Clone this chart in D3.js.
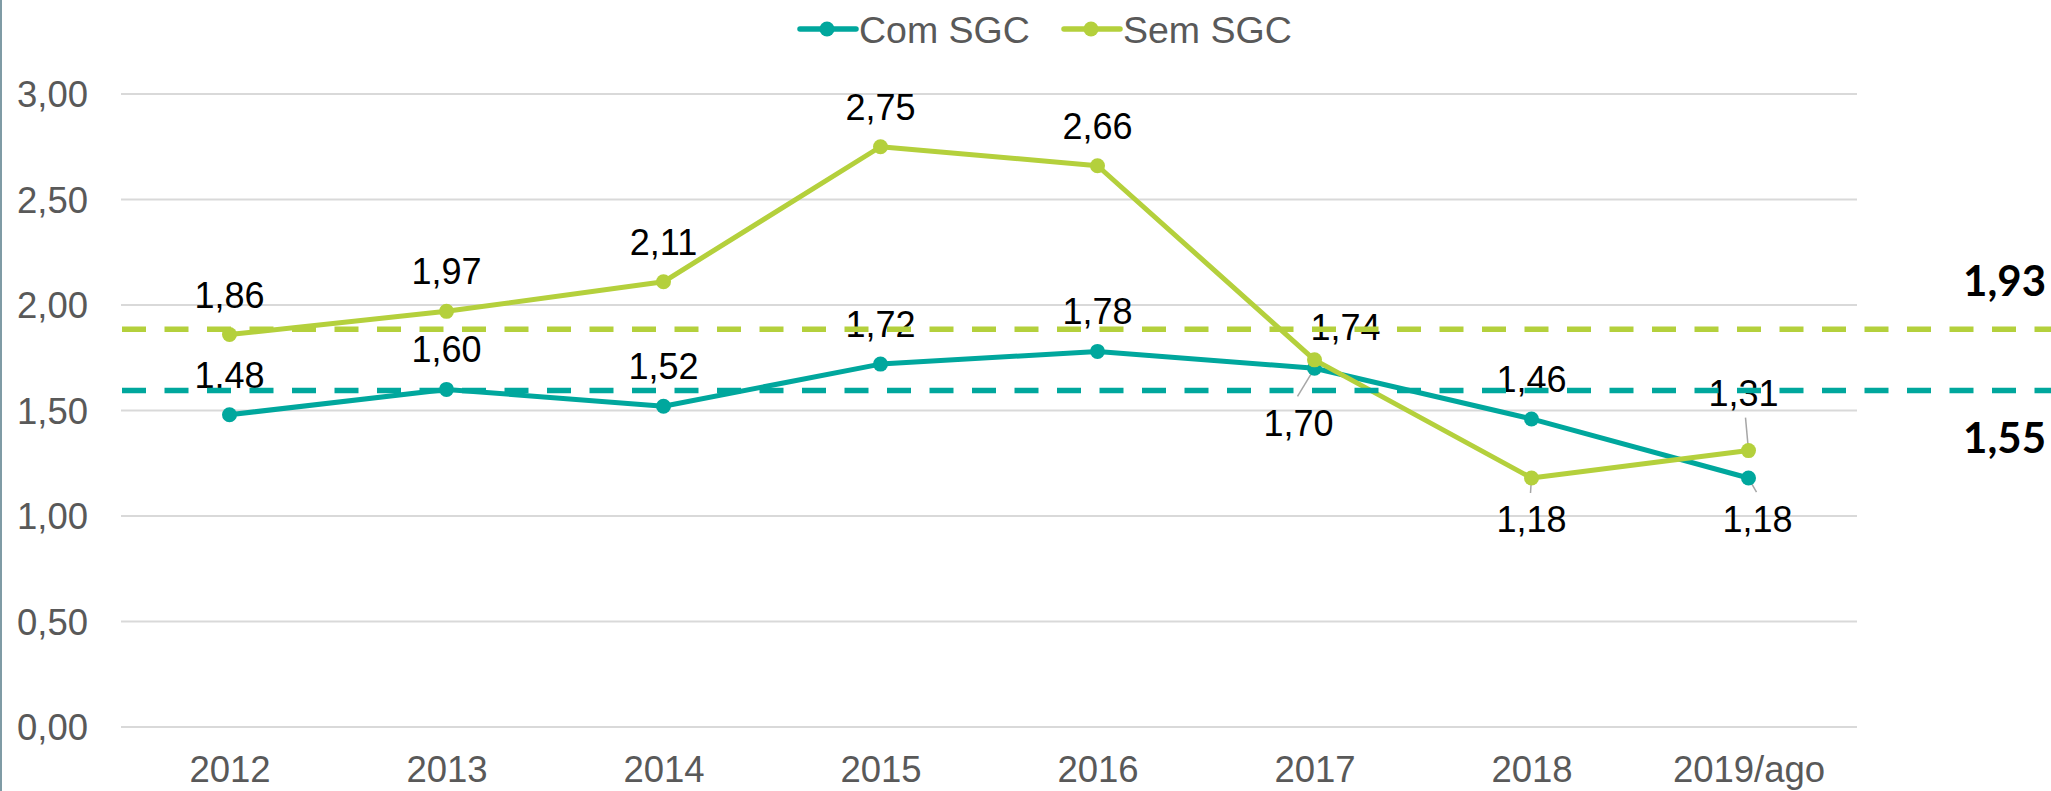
<!DOCTYPE html>
<html>
<head>
<meta charset="utf-8">
<script src="https://cdn.jsdelivr.net/npm/d3@7"></script>
<style>
  html, body { margin: 0; padding: 0; background: #fff; }
  svg { display: block; font-family: "Liberation Sans", Arial, sans-serif; }
</style>
</head>
<body>
<div id="chart"></div>
<script>
const years = ["2012", "2013", "2014", "2015", "2016", "2017", "2018", "2019/ago"];
const comSGC = [1.48, 1.60, 1.52, 1.72, 1.78, 1.70, 1.46, 1.18];
const semSGC = [1.86, 1.97, 2.11, 2.75, 2.66, 1.74, 1.18, 1.31];
const yTicks = [0, 0.5, 1, 1.5, 2, 2.5, 3];
// reference lines as drawn, and the averages printed beside them
const avgLines = [1.885, 1.595];
const avgLabels = ["1,93", "1,55"];

const width = 2051;
const height = 791;
const teal = "#00a79d";
const green = "#b4d03c";

const fmt = v => d3.format(".2f")(v).replace(".", ",");

const svg = d3.select("#chart").append("svg")
    .attr("width", width)
    .attr("height", height);

const x = d3.scalePoint()
    .domain(years)
    .range([121, 1857])
    .padding(0.5);

const y = d3.scaleLinear()
    .domain([0, 3])
    .range([727, 94]);

// left border line
svg.append("line")
    .attr("x1", 1).attr("x2", 1)
    .attr("y1", 0).attr("y2", height)
    .attr("stroke", "#7f9ba5")
    .attr("stroke-width", 2);

// gridlines
svg.append("g")
    .selectAll("line")
    .data(yTicks)
    .enter().append("line")
    .attr("x1", 121)
    .attr("x2", 1857)
    .attr("y1", d => y(d))
    .attr("y2", d => y(d))
    .attr("stroke", "#d9d9d9")
    .attr("stroke-width", 2);

// y tick labels
svg.append("g")
    .selectAll("text")
    .data(yTicks)
    .enter().append("text")
    .attr("x", 88)
    .attr("y", d => y(d))
    .attr("dy", "0.36em")
    .attr("text-anchor", "end")
    .attr("font-size", "36.5px")
    .attr("fill", "#595959")
    .text(d => fmt(d));

// x axis labels
const xAxis = d3.axisBottom(x).tickSize(0).tickPadding(0);
const gx = svg.append("g")
    .attr("transform", "translate(0,782)")
    .call(xAxis);
gx.select(".domain").remove();
gx.selectAll("text")
    .attr("dy", 0)
    .attr("font-size", "36.5px")
    .attr("font-family", "Liberation Sans, Arial, sans-serif")
    .attr("fill", "#595959");

const series = [
  { name: "Com SGC", values: comSGC, color: teal },
  { name: "Sem SGC", values: semSGC, color: green }
];

// label placement: offsets from point (label centre), plus optional leader line end
const place = {
  "Com SGC": { 5: { dx: -16, dy: 55, lx: -17, ly: 28 }, 7: { dx: 9, dy: 41, lx: 8, ly: 14 } },
  "Sem SGC": { 5: { dx: 31, dy: -33 }, 6: { dx: 0, dy: 41, lx: -1, ly: 15 }, 7: { dx: -5, dy: -58, lx: -3, ly: -33 } }
};
const defaultPlace = { dx: 0, dy: -40 };

const line = d3.line()
    .x((d, i) => x(years[i]))
    .y(d => y(d));

const gSeries = svg.append("g");
series.forEach(s => {
  const g = gSeries.append("g");
  g.append("path")
      .datum(s.values)
      .attr("fill", "none")
      .attr("stroke", s.color)
      .attr("stroke-width", 5)
      .attr("stroke-linejoin", "round")
      .attr("d", line);

  // leader lines
  g.selectAll("line.leader")
      .data(s.values.map((v, i) => ({ v, i, p: (place[s.name] || {})[i] })).filter(d => d.p && d.p.lx !== undefined))
      .enter().append("line")
      .attr("class", "leader")
      .attr("x1", d => x(years[d.i]))
      .attr("y1", d => y(d.v))
      .attr("x2", d => x(years[d.i]) + d.p.lx)
      .attr("y2", d => y(d.v) + d.p.ly)
      .attr("stroke", "#a6a6a6")
      .attr("stroke-width", 1.5);

  g.selectAll("circle")
      .data(s.values)
      .enter().append("circle")
      .attr("cx", (d, i) => x(years[i]))
      .attr("cy", d => y(d))
      .attr("r", 7.5)
      .attr("fill", s.color);
});

// data labels
series.forEach(s => {
  svg.append("g")
      .selectAll("text")
      .data(s.values)
      .enter().append("text")
      .attr("x", (d, i) => x(years[i]) + ((place[s.name] || {})[i] || defaultPlace).dx)
      .attr("y", (d, i) => y(d) + ((place[s.name] || {})[i] || defaultPlace).dy)
      .attr("dy", "0.36em")
      .attr("text-anchor", "middle")
      .attr("font-size", "36px")
      .attr("fill", "#000")
      .text(d => fmt(d));
});

// dashed average lines
const avgColors = [green, teal];
svg.append("g")
    .selectAll("line")
    .data(avgLines)
    .enter().append("line")
    .attr("x1", 122)
    .attr("x2", width)
    .attr("y1", d => y(d))
    .attr("y2", d => y(d))
    .attr("stroke", (d, i) => avgColors[i])
    .attr("stroke-width", 5.5)
    .attr("stroke-dasharray", "24,18.5");

svg.append("g")
    .selectAll("text")
    .data(avgLabels)
    .enter().append("text")
    .attr("x", 2046)
    .attr("y", (d, i) => [281, 438][i])
    .attr("dy", "0.36em")
    .attr("text-anchor", "end")
    .attr("font-family", "Lato, 'Open Sans', sans-serif")
    .attr("font-weight", "bold")
    .attr("font-size", "42px")
    .attr("fill", "#000")
    .text(d => d);

// legend
const legend = svg.append("g")
    .selectAll("g")
    .data(series)
    .enter().append("g")
    .attr("transform", (d, i) => `translate(${[800, 1064][i]},29)`);

legend.append("line")
    .attr("x1", 0).attr("x2", 56)
    .attr("y1", 0).attr("y2", 0)
    .attr("stroke", d => d.color)
    .attr("stroke-width", 5.5)
    .attr("stroke-linecap", "round");

legend.append("circle")
    .attr("cx", 27)
    .attr("r", 7.5)
    .attr("fill", d => d.color);

legend.append("text")
    .attr("x", 59)
    .attr("dy", "0.36em")
    .attr("font-size", "37.5px")
    .attr("fill", "#595959")
    .text(d => d.name);
</script>
</body>
</html>
